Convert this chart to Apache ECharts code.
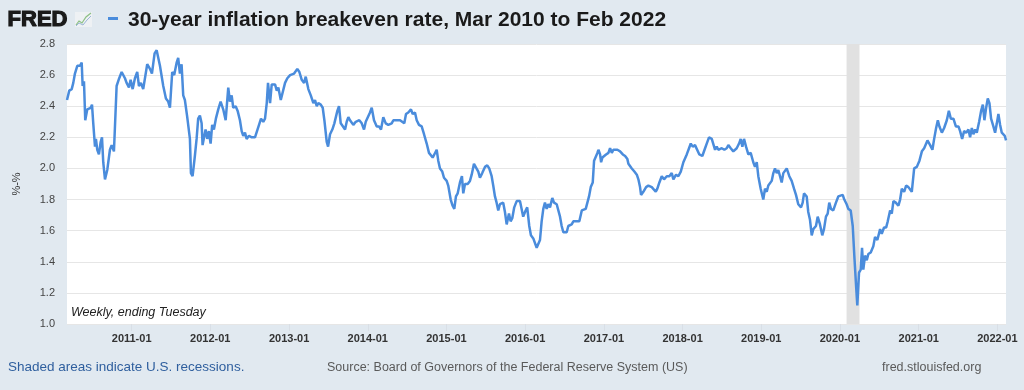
<!DOCTYPE html>
<html>
<head>
<meta charset="utf-8">
<script src="https://cdn.jsdelivr.net/npm/echarts@6/dist/echarts.min.js"></script>
<style>
html,body{margin:0;padding:0;background:#e1e9f0;}
#chart{width:1024px;height:390px;}
</style>
</head>
<body>
<div id="chart"></div>
<script>
var obsYears = [
2010.178,2010.207,2010.238,2010.258,2010.279,2010.309,2010.343,2010.365,2010.377,2010.394,
2010.410,2010.436,2010.479,2010.496,2010.512,2010.534,2010.546,2010.563,2010.584,2010.606,
2010.623,2010.639,2010.661,2010.690,2010.724,2010.746,2010.775,2010.809,2010.842,2010.873,
2010.915,2010.936,2010.966,2010.987,2011.013,2011.042,2011.071,2011.093,2011.118,2011.147,
2011.169,2011.198,2011.233,2011.258,2011.292,2011.318,2011.360,2011.402,2011.436,2011.465,
2011.487,2011.516,2011.541,2011.572,2011.592,2011.614,2011.635,2011.656,2011.677,2011.707,
2011.741,2011.754,2011.775,2011.804,2011.826,2011.846,2011.868,2011.890,2011.902,2011.923,
2011.940,2011.961,2011.982,2012.004,2012.024,2012.046,2012.071,2012.101,2012.131,2012.164,
2012.195,2012.228,2012.249,2012.271,2012.291,2012.322,2012.347,2012.376,2012.398,2012.418,
2012.440,2012.461,2012.491,2012.525,2012.567,2012.589,2012.618,2012.643,2012.672,2012.694,
2012.716,2012.732,2012.758,2012.779,2012.799,2012.821,2012.843,2012.863,2012.894,2012.919,
2012.948,2012.977,2013.012,2013.033,2013.063,2013.084,2013.104,2013.130,2013.139,2013.160,
2013.190,2013.211,2013.244,2013.275,2013.308,2013.329,2013.351,2013.371,2013.402,2013.427,
2013.448,2013.478,2013.495,2013.520,2013.549,2013.575,2013.593,2013.613,2013.634,2013.656,
2013.681,2013.711,2013.732,2013.753,2013.774,2013.796,2013.816,2013.847,2013.867,2013.892,
2013.923,2013.952,2013.974,2013.999,2014.028,2014.050,2014.079,2014.114,2014.143,2014.168,
2014.197,2014.228,2014.261,2014.304,2014.325,2014.368,2014.410,2014.431,2014.464,2014.486,
2014.515,2014.549,2014.571,2014.600,2014.622,2014.651,2014.685,2014.715,2014.749,2014.778,
2014.800,2014.825,2014.846,2014.876,2014.896,2014.918,2014.947,2014.969,2015.003,2015.023,
2015.054,2015.079,2015.100,2015.121,2015.143,2015.172,2015.197,2015.214,2015.236,2015.270,
2015.299,2015.321,2015.350,2015.375,2015.405,2015.426,2015.455,2015.490,2015.519,2015.544,
2015.575,2015.595,2015.617,2015.638,2015.659,2015.680,2015.702,2015.722,2015.744,2015.766,
2015.795,2015.816,2015.837,2015.862,2015.893,2015.913,2015.935,2015.956,2015.976,2016.007,
2016.027,2016.053,2016.074,2016.104,2016.147,2016.189,2016.210,2016.231,2016.252,2016.274,
2016.294,2016.316,2016.345,2016.367,2016.401,2016.421,2016.443,2016.464,2016.485,2016.506,
2016.528,2016.548,2016.570,2016.591,2016.612,2016.655,2016.688,2016.719,2016.739,2016.769,
2016.790,2016.811,2016.833,2016.846,2016.858,2016.875,2016.900,2016.917,2016.930,2016.951,
2016.964,2016.980,2017.002,2017.027,2017.057,2017.078,2017.100,2017.120,2017.142,2017.171,
2017.205,2017.240,2017.269,2017.298,2017.311,2017.332,2017.354,2017.387,2017.418,2017.438,
2017.459,2017.472,2017.501,2017.536,2017.565,2017.587,2017.608,2017.628,2017.659,2017.679,
2017.705,2017.735,2017.764,2017.799,2017.832,2017.862,2017.883,2017.917,2017.946,2017.977,
2018.010,2018.053,2018.082,2018.104,2018.129,2018.158,2018.180,2018.213,2018.251,2018.286,
2018.307,2018.336,2018.371,2018.391,2018.413,2018.434,2018.455,2018.498,2018.531,2018.561,
2018.582,2018.612,2018.645,2018.688,2018.718,2018.739,2018.760,2018.781,2018.807,2018.836,
2018.866,2018.899,2018.921,2018.943,2018.963,2018.993,2019.026,2019.048,2019.070,2019.090,
2019.112,2019.133,2019.154,2019.175,2019.197,2019.217,2019.239,2019.260,2019.281,2019.324,
2019.357,2019.387,2019.417,2019.442,2019.471,2019.493,2019.506,2019.527,2019.544,2019.578,
2019.598,2019.620,2019.642,2019.662,2019.696,2019.718,2019.747,2019.776,2019.798,2019.823,
2019.845,2019.865,2019.887,2019.916,2019.950,2019.980,2020.001,2020.036,2020.056,2020.086,
2020.107,2020.137,2020.163,2020.183,2020.205,2020.221,2020.243,2020.264,2020.281,2020.297,
2020.319,2020.341,2020.361,2020.391,2020.424,2020.446,2020.475,2020.510,2020.531,2020.560,
2020.586,2020.607,2020.637,2020.658,2020.679,2020.709,2020.742,2020.764,2020.785,2020.815,
2020.840,2020.869,2020.891,2020.912,2020.942,2020.976,2021.009,2021.040,2021.069,2021.090,
2021.111,2021.145,2021.174,2021.196,2021.221,2021.243,2021.263,2021.294,2021.323,2021.357,
2021.383,2021.408,2021.441,2021.472,2021.505,2021.526,2021.552,2021.577,2021.603,2021.632,
2021.653,2021.675,2021.695,2021.717,2021.738,2021.768,2021.793,2021.815,2021.835,2021.857,
2021.878,2021.899,2021.920,2021.949,2021.971,2021.993,2022.013,2022.035,2022.056,2022.077,
2022.094,2022.110
];
// 30-year breakeven rate, percent
var rates = [
2.44,2.50,2.51,2.55,2.61,2.66,2.66,2.68,2.53,2.56,
2.31,2.38,2.39,2.41,2.29,2.14,2.19,2.12,2.09,2.17,
2.20,2.04,1.93,1.99,2.12,2.15,2.11,2.53,2.58,2.62,
2.58,2.55,2.52,2.57,2.51,2.58,2.62,2.53,2.55,2.51,
2.51,2.67,2.64,2.61,2.74,2.76,2.66,2.53,2.45,2.43,
2.39,2.62,2.60,2.68,2.71,2.61,2.67,2.47,2.44,2.33,
2.19,1.97,1.95,2.08,2.19,2.32,2.34,2.29,2.15,2.16,
2.25,2.19,2.24,2.16,2.28,2.25,2.32,2.38,2.43,2.38,
2.31,2.52,2.43,2.47,2.39,2.40,2.37,2.31,2.24,2.21,
2.23,2.19,2.21,2.20,2.20,2.20,2.28,2.32,2.30,2.32,
2.42,2.55,2.42,2.54,2.53,2.54,2.50,2.52,2.44,2.43,
2.55,2.58,2.60,2.59,2.61,2.60,2.64,2.62,2.63,2.57,
2.55,2.59,2.51,2.47,2.42,2.44,2.40,2.42,2.41,2.39,
2.31,2.17,2.14,2.22,2.25,2.29,2.28,2.37,2.40,2.29,
2.28,2.25,2.30,2.33,2.31,2.32,2.28,2.30,2.29,2.31,
2.29,2.25,2.30,2.29,2.36,2.39,2.31,2.27,2.27,2.25,
2.33,2.29,2.28,2.29,2.31,2.31,2.31,2.30,2.29,2.35,
2.36,2.38,2.35,2.36,2.31,2.28,2.27,2.22,2.16,2.10,
2.09,2.07,2.09,2.12,2.05,2.00,1.98,1.94,1.92,1.89,
1.80,1.76,1.74,1.82,1.84,1.91,1.95,1.84,1.90,1.90,
1.92,1.96,2.03,2.03,1.98,1.94,1.97,2.01,2.02,2.00,
1.95,1.89,1.82,1.78,1.73,1.77,1.76,1.78,1.72,1.64,
1.71,1.66,1.68,1.75,1.79,1.80,1.79,1.74,1.69,1.73,
1.75,1.63,1.57,1.55,1.49,1.54,1.66,1.74,1.78,1.74,
1.77,1.75,1.81,1.78,1.77,1.76,1.69,1.63,1.59,1.60,
1.59,1.63,1.62,1.64,1.66,1.66,1.66,1.73,1.72,1.74,
1.78,1.82,1.88,1.87,1.91,2.05,2.06,2.10,2.12,2.09,
2.04,2.07,2.08,2.09,2.10,2.13,2.10,2.12,2.13,2.12,
2.11,2.09,2.08,2.06,2.03,2.04,2.00,1.98,1.96,1.93,
1.88,1.83,1.85,1.88,1.89,1.90,1.88,1.89,1.85,1.87,
1.91,1.95,1.93,1.95,1.95,1.97,1.93,1.96,1.95,1.98,
2.04,2.09,2.13,2.16,2.14,2.15,2.14,2.09,2.08,2.13,
2.16,2.20,2.19,2.19,2.12,2.14,2.12,2.13,2.12,2.13,
2.15,2.13,2.11,2.13,2.16,2.19,2.14,2.19,2.14,2.09,
2.10,2.04,2.01,2.04,1.95,1.87,1.80,1.87,1.85,1.89,
1.88,1.92,1.97,2.00,1.97,1.99,1.95,1.91,1.97,2.00,
1.95,1.92,1.87,1.83,1.77,1.78,1.75,1.78,1.84,1.82,
1.72,1.67,1.57,1.61,1.63,1.69,1.64,1.57,1.61,1.69,
1.71,1.78,1.74,1.73,1.78,1.82,1.81,1.83,1.80,1.77,
1.74,1.73,1.63,1.44,1.25,1.12,1.33,1.35,1.49,1.35,
1.44,1.41,1.45,1.46,1.50,1.56,1.54,1.61,1.58,1.62,
1.62,1.66,1.73,1.71,1.79,1.78,1.76,1.80,1.87,1.85,
1.89,1.88,1.89,1.85,2.00,2.01,2.05,2.11,2.13,2.12,
2.18,2.15,2.12,2.19,2.26,2.31,2.27,2.23,2.26,2.31,
2.37,2.32,2.32,2.27,2.27,2.24,2.19,2.24,2.23,2.25,
2.20,2.26,2.22,2.25,2.23,2.30,2.37,2.41,2.31,2.39,
2.45,2.42,2.32,2.27,2.23,2.29,2.35,2.28,2.23,2.23,
2.21,2.18
];
var recessions = [['2020-02-01', '2020-04-01']];
var yTicks = [1.0, 1.2, 1.4, 1.6, 1.8, 2.0, 2.2, 2.4, 2.6, 2.8];
var xTickYears = [2011, 2012, 2013, 2014, 2015, 2016, 2017, 2018, 2019, 2020, 2021, 2022];
var xRange = ['2010-03-07', '2022-02-10'];

function decToTime(d) {
  var y = Math.floor(d);
  var s = Date.UTC(y, 0, 1), e = Date.UTC(y + 1, 0, 1);
  return s + (d - y) * (e - s);
}
function isoToTime(s) {
  var p = s.split('-');
  return Date.UTC(+p[0], +p[1] - 1, +p[2]);
}
var seriesData = obsYears.map(function (d, i) { return [decToTime(d), rates[i]]; });
var tickTimes = xTickYears.map(function (y) { return Date.UTC(y, 0, 1); });
var FONT = '"Liberation Sans", Arial, sans-serif';

var chart = echarts.init(document.getElementById('chart'), null, { renderer: 'canvas' });
var option = {
  backgroundColor: '#e1e9f0',
  animation: false,
  grid: { left: 67, right: 18, top: 44, bottom: 66, show: true, backgroundColor: '#ffffff', borderWidth: 0 },
  xAxis: {
    type: 'value',
    min: isoToTime(xRange[0]),
    max: isoToTime(xRange[1]),
    axisLine: { show: false },
    axisTick: { show: true, customValues: tickTimes, length: 7, lineStyle: { color: '#d9dfe6', width: 1 } },
    axisLabel: {
      customValues: tickTimes,
      margin: 9,
      color: '#333333',
      fontFamily: FONT,
      fontSize: 11,
      fontWeight: 'bold',
      formatter: function (v) { return new Date(v).getUTCFullYear() + '-01'; }
    },
    splitLine: { show: false }
  },
  yAxis: {
    type: 'value',
    min: yTicks[0],
    max: yTicks[yTicks.length - 1],
    interval: 0.2,
    name: '%-%',
    nameLocation: 'middle',
    nameRotate: 90,
    nameGap: 45,
    nameTextStyle: { color: '#333', fontSize: 11, fontFamily: FONT },
    axisLine: { show: false },
    axisTick: { show: false },
    axisLabel: {
      margin: 12,
      color: '#444',
      fontSize: 11,
      fontFamily: FONT,
      formatter: function (v) { return v.toFixed(1); }
    },
    splitLine: { lineStyle: { color: '#e6e6e6', width: 1 } }
  },
  series: [{
    type: 'line',
    data: seriesData,
    showSymbol: false,
    lineStyle: { color: '#4a8cdc', width: 2.5 },
    itemStyle: { color: '#4a8cdc' },
    markArea: {
      silent: true,
      itemStyle: { color: '#e1e1e1' },
      data: recessions.map(function (r) { return [{ xAxis: isoToTime(r[0]) }, { xAxis: isoToTime(r[1]) }]; })
    },
    z: 3
  }],
  graphic: [
    { type: 'text', left: 7, top: 8, style: { text: 'FRED', font: 'bold 22px ' + FONT, fill: '#1a1a1a', stroke: '#1a1a1a', lineWidth: 1.2 } },
    { type: 'rect', shape: { x: 75, y: 12, width: 17, height: 15 }, style: { fill: '#eef1f4' } },
    { type: 'polyline', shape: { points: [[76, 25], [79, 21], [82, 23], [86, 17], [91, 13]] }, style: { stroke: '#8cc084', lineWidth: 1.2, fill: null } },
    { type: 'polyline', shape: { points: [[76, 26], [79, 23], [83, 25], [87, 20], [91, 16]] }, style: { stroke: '#9bb6d6', lineWidth: 1, fill: null } },
    { type: 'rect', shape: { x: 108, y: 17, width: 10, height: 3 }, style: { fill: '#4a8cdc' } },
    { type: 'text', left: 128, top: 10, style: { text: '30-year inflation breakeven rate, Mar 2010 to Feb 2022', font: 'bold 21px ' + FONT, fill: '#1a1a1a' } },
    { type: 'text', left: 71, top: 306, style: { text: 'Weekly, ending Tuesday', font: 'italic 12.5px ' + FONT, fill: '#222' }, z: 10 },
    { type: 'text', left: 8, top: 360, style: { text: 'Shaded areas indicate U.S. recessions.', font: '13.5px ' + FONT, fill: '#2f5f9e' } },
    { type: 'text', left: 327, top: 361, style: { text: 'Source: Board of Governors of the Federal Reserve System (US)', font: '12.5px ' + FONT, fill: '#5a5a5a' } },
    { type: 'text', left: 882, top: 361, style: { text: 'fred.stlouisfed.org', font: '12.5px ' + FONT, fill: '#5a5a5a' } }
  ]
};
chart.setOption(option);
</script>
</body>
</html>
